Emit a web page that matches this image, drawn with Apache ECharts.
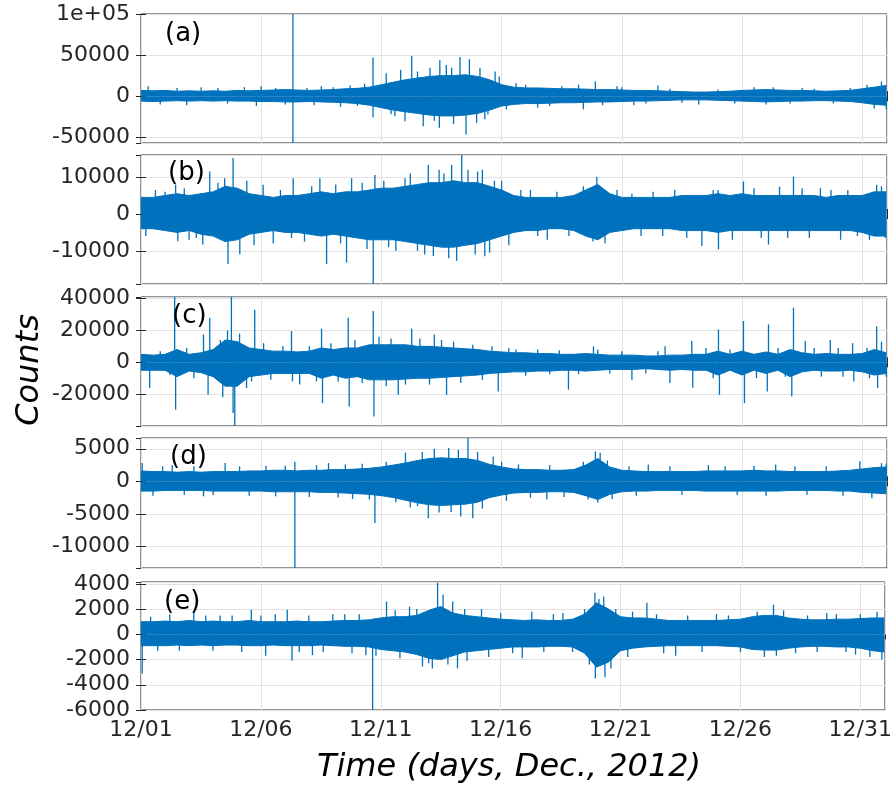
<!DOCTYPE html>
<html>
<head>
<meta charset="utf-8">
<title>Counts, Dec. 2012</title>
<script src="https://cdn.jsdelivr.net/npm/echarts@6/dist/echarts.min.js"></script>
<style>
  html, body { margin: 0; padding: 0; background: #fff; }
  #chart { width: 895px; height: 789px; }
</style>
</head>
<body>
<div id="chart"></div>
<script>
// sample times (days since 12/01 00:00), half-day steps
const days = [
  0, 0.5, 1, 1.5, 2, 2.5, 3, 3.5, 4, 4.5,
  5, 5.5, 6, 6.5, 7, 7.5, 8, 8.5, 9, 9.5,
  10, 10.5, 11, 11.5, 12, 12.5, 13, 13.5, 14, 14.5,
  15, 15.5, 16, 16.5, 17, 17.5, 18, 18.5, 19, 19.5,
  20, 20.5, 21, 21.5, 22, 22.5, 23, 23.5, 24, 24.5,
  25, 25.5, 26, 26.5, 27, 27.5, 28, 28.5, 29, 29.5,
  30, 30.5, 31
];
const dayTicks = ['12/01', '12/06', '12/11', '12/16', '12/21', '12/26', '12/31'];
const panelNames = ['(a)', '(b)', '(c)', '(d)', '(e)'];

// y ranges and tick steps for each panel
const yMin = [-57000, -19000, -40000, -13300, -6000];
const yMax = [100000, 16000, 41000, 6650, 4150];
const yStep = [50000, 10000, 20000, 5000, 2000];

// (a) dense noise envelope (upper / lower), big spikes and edge spikes [day, counts]
const hiA = [
  7000, 6500, 7000, 6000, 6500, 6000, 6500, 6000, 7000, 6500,
  7000, 7500, 8000, 7500, 7000, 7500, 8000, 9000, 9500, 11000,
  14000, 17000, 20000, 22000, 24000, 25000, 25000, 26000, 24000, 20000,
  14000, 11000, 10000, 10000, 9500, 9000, 9000, 8500, 8000, 8000,
  7500, 7000, 7000, 6500, 6000, 5500, 5000, 5000, 5500, 6000,
  7000, 7500, 8000, 7500, 7000, 7000, 6500, 6000, 6500, 7000,
  9000, 11000, 13000
];
const loA = [
  -6000, -6500, -6000, -5500, -6000, -5500, -6000, -5500, -6000, -6000,
  -6500, -6500, -7000, -7000, -6500, -7000, -7500, -8000, -9000, -11000,
  -14000, -17000, -19000, -21000, -23000, -24000, -24000, -23000, -21000, -17000,
  -12000, -10000, -9000, -9000, -8500, -8000, -8000, -7500, -7000, -7000,
  -6500, -6000, -6000, -5500, -5000, -4500, -4500, -4500, -5000, -5500,
  -6000, -6500, -7000, -6500, -6000, -6000, -5500, -5500, -6000, -6500,
  -8000, -10000, -11000
];
const spikesA = [
  [0.3, 12000], [2.5, 11000], [5.0, 12000], [6.32, 100000], [6.32, -57000],
  [7.5, 12000], [8.3, -13000], [9.65, 47000], [9.65, -26000], [10.56, -24400],
  [10.98, -30500], [11.26, 48800], [11.74, -36600], [12.02, 34600], [12.41, -38600],
  [12.43, 43900], [12.92, 34600], [13.27, 47600], [13.52, -46700], [13.66, 45100],
  [13.96, -32500], [14.1, 34600], [14.43, -22300], [14.73, 30000], [15.6, 16000],
  [16.5, -14000], [18.2, 14000], [18.4, -16000], [18.9, 18000], [19.8, 12000],
  [20.5, -11000], [21.5, 13000], [23.2, -10000], [26.3, 11000], [27.5, 10000],
  [30.5, -15000], [30.8, 18000]
];
const edgeA = [
  [0.8, -10000], [1.5, 10000], [1.9, -11000], [3.2, 10000], [3.6, -9000],
  [4.3, 11000], [4.8, -12000], [5.6, 10000], [6.0, -10000], [6.9, 10000],
  [7.2, -11000], [8.0, 11000], [8.7, 13000], [9.0, -12000], [9.3, 15000],
  [10.2, 28000], [10.4, -22000], [10.8, 32000], [11.5, 30000], [12.2, -30000],
  [12.7, 38000], [13.0, -34000], [14.3, -28000], [14.9, 24000], [15.2, -16000],
  [16.0, 14000], [17.0, -12000], [17.5, 12000], [19.2, -11000], [20.0, 11000],
  [21.0, -9000], [22.0, 9000], [22.5, -8000], [24.0, 8000], [24.7, -9000],
  [25.5, 11000], [26.0, -10000], [27.0, -9000], [28.0, 9000], [28.8, -9000],
  [29.5, 10000], [30.2, 14000], [31.0, -16000]
];

// (b)
const hiB = [
  4500, 4500, 5000, 5500, 5000, 5500, 6000, 7500, 7000, 5500,
  5000, 4500, 5000, 5000, 5500, 6000, 5500, 6000, 6000, 6500,
  7000, 7000, 7500, 8000, 8500, 8500, 9000, 8500, 8500, 7500,
  6500, 5000, 4500, 4500, 4500, 4500, 5000, 6500, 8000, 5500,
  4500, 4500, 4500, 4500, 4500, 5000, 5000, 5000, 5500, 5000,
  5500, 5000, 5000, 5000, 5000, 5000, 5000, 4500, 5000, 5000,
  5000, 6000, 6000
];
const loB = [
  -4000, -4000, -4500, -5000, -4500, -5500, -6000, -7500, -7000, -5500,
  -5000, -4500, -5000, -5000, -5500, -6000, -5500, -6000, -6500, -7000,
  -7000, -7000, -7500, -8000, -8500, -9000, -9000, -8500, -8000, -7000,
  -6000, -5000, -4500, -4500, -4000, -4000, -4500, -6000, -7000, -5000,
  -4500, -4000, -4000, -4000, -4000, -4500, -4500, -4500, -5000, -4500,
  -4500, -4500, -4500, -4500, -4500, -4500, -4500, -4500, -4500, -4500,
  -5000, -6000, -6000
];
const spikesB = [
  [0.6, 6500], [1.44, 8000], [1.53, -7400], [2.0, -7000], [2.57, -8300],
  [2.86, 11500], [3.48, 9700], [3.62, -13600], [3.83, 15200], [4.11, -10900],
  [5.08, 7900], [5.5, -8000], [6.26, -6500], [6.33, 9700], [7.44, 9700],
  [7.72, -13600], [8.55, -13200], [8.76, 9700], [9.66, -18900], [9.73, 10600],
  [10.3, -9000], [10.98, 9700], [11.5, -10000], [11.95, 13300], [12.16, -11400],
  [12.6, 11000], [12.92, 13300], [13.13, -12700], [13.34, 16000], [13.9, -11000],
  [14.2, 12000], [14.5, -10500], [14.7, 9000], [16.2, 6500], [16.9, -7000],
  [18.8, -7500], [18.96, 10100], [20.42, 5500], [21.7, -6000], [23.33, -8700],
  [24.0, 6500], [24.02, -9600], [25.06, 8800], [26.1, -8300], [26.56, 7400],
  [27.14, 10100], [28.26, 7000], [29.1, -7000], [30.6, 7900], [30.96, -6500]
];
const edgeB = [
  [0.2, -6000], [1.0, 6000], [1.8, 7000], [2.3, -6500], [3.2, 8500],
  [4.4, 9000], [4.7, -8500], [5.8, 6500], [6.8, -7500], [7.1, 7500],
  [8.1, 8000], [8.3, -8000], [9.2, 8500], [9.4, -9500], [10.1, 9000],
  [10.6, -10000], [11.2, 11000], [11.8, -11000], [12.4, 12000], [12.8, -12000],
  [13.6, 12000], [14.0, 11500], [14.3, -11500], [15.0, 9000], [15.3, -8500],
  [15.8, 6500], [16.5, -6000], [17.3, 6000], [17.8, -6000], [18.4, 7500],
  [19.3, -8000], [19.8, 6500], [20.8, -6000], [21.3, 6000], [22.2, 6500],
  [22.7, -6500], [23.8, 6500], [24.6, -7000], [25.5, 7000], [25.8, -6500],
  [26.9, -6500], [27.5, 7000], [27.8, -6500], [28.7, 6500], [29.4, 6500],
  [29.8, -6000], [30.3, -7000], [30.8, 7500]
];

// (c)
const hiC = [
  5000, 4500, 5000, 8000, 5000, 6000, 8000, 14000, 13000, 9000,
  8000, 7000, 7000, 6500, 7000, 9000, 8000, 9000, 9000, 11000,
  11000, 11000, 11000, 10000, 10000, 9500, 9000, 8500, 8000, 7000,
  6500, 6000, 6000, 5500, 5500, 5000, 5000, 5500, 5000, 4500,
  4500, 4500, 4000, 4000, 4500, 4500, 5000, 5000, 7000, 5000,
  7000, 5000, 6500, 5000, 8000, 6000, 5000, 5500, 5000, 5000,
  5500, 8000, 6000
];
const loC = [
  -5000, -5000, -5000, -9000, -5500, -6500, -9000, -15000, -15000, -9000,
  -8000, -7000, -7000, -7000, -7000, -10000, -8000, -10000, -9000, -11000,
  -11000, -11000, -10500, -10000, -10000, -9500, -9000, -8500, -8000, -7000,
  -6500, -6000, -6000, -5500, -5500, -5000, -5000, -5500, -5000, -4500,
  -4500, -4500, -4000, -4500, -5000, -4500, -5000, -5000, -8000, -5000,
  -8000, -5000, -7000, -5000, -9000, -6000, -5000, -5500, -5500, -5000,
  -6000, -8000, -7000
];
const spikesC = [
  [0.36, -16200], [1.40, 41000], [1.44, -29800], [2.6, 17500], [2.79, -20400],
  [2.86, 28000], [3.6, 20000], [3.76, 41000], [3.83, -31900], [3.9, -40000],
  [4.39, -16200], [4.73, 33000], [6.26, 19600], [6.6, -14000], [7.51, 21000],
  [7.55, -25600], [8.62, 28000], [8.66, -27800], [9.66, 32200], [9.69, -34000],
  [10.7, -20400], [11.26, 21000], [12.2, 17500], [12.71, -20400], [14.86, -18300],
  [15.3, 9000], [17.78, -17200], [18.82, 10000], [20.42, -11000], [21.8, 10000],
  [22.0, -13000], [22.91, 13300], [22.95, -16000], [24.02, 20600], [24.06, -20400],
  [25.06, 25900], [25.1, -25600], [26.05, -18300], [26.1, 23800], [27.07, -21500],
  [27.14, 34300], [27.63, 13300], [28.67, 14000], [29.6, 12000], [29.65, -12000],
  [30.6, 22700], [30.64, -16200], [30.8, 13000]
];
const edgeC = [
  [0.8, 7000], [1.2, -8000], [1.9, 9000], [2.2, -10000], [3.3, 14000],
  [3.4, -22000], [4.1, 18000], [4.6, -12000], [5.1, 12000], [5.4, -11000],
  [5.9, 10000], [6.3, -12000], [7.0, 10000], [7.3, -12000], [7.9, 12000],
  [8.2, -12000], [8.9, 14000], [9.2, -13000], [9.9, 16000], [10.2, -15000],
  [10.4, 15000], [11.0, -14000], [11.6, 15000], [12.0, -14000], [12.5, 14000],
  [13.0, 13000], [13.3, -13000], [13.8, 11000], [14.2, -11000], [14.6, 10000],
  [15.6, 8000], [16.0, -8500], [16.5, 8000], [17.0, -7500], [17.4, 7500],
  [18.2, -7500], [19.0, 8000], [19.5, -7000], [20.0, 7000], [21.0, -7000],
  [21.5, 7000], [23.5, 9000], [23.8, -10000], [24.5, 8000], [25.6, -10000],
  [26.5, 9000], [26.8, -9000], [28.0, 9000], [28.3, -9000], [29.0, 9000],
  [29.2, -9000], [30.2, 9000], [30.3, -10000], [31.0, -9000]
];

// (d)
const hiD = [
  1600, 1500, 1500, 1400, 1500, 1400, 1500, 1500, 1500, 1600,
  1600, 1700, 1700, 1600, 1700, 1700, 1800, 1800, 1900, 2000,
  2200, 2500, 2800, 3200, 3500, 3600, 3500, 3500, 3200, 2600,
  2200, 1900, 1800, 1800, 1700, 1700, 1800, 2500, 3500, 2200,
  1700, 1600, 1500, 1500, 1500, 1500, 1500, 1600, 1600, 1600,
  1600, 1700, 1600, 1600, 1500, 1500, 1500, 1500, 1600, 1700,
  1900, 2100, 2200
];
const loD = [
  -1500, -1500, -1400, -1400, -1400, -1400, -1500, -1500, -1500, -1500,
  -1500, -1600, -1600, -1600, -1600, -1700, -1700, -1800, -1900, -2000,
  -2200, -2500, -2900, -3300, -3600, -3700, -3600, -3500, -3200, -2500,
  -2100, -1800, -1700, -1700, -1600, -1600, -1700, -2200, -2800, -2000,
  -1600, -1500, -1500, -1400, -1400, -1400, -1400, -1500, -1500, -1500,
  -1500, -1500, -1500, -1500, -1400, -1400, -1400, -1400, -1500, -1500,
  -1700, -1800, -1900
];
const spikesD = [
  [0.05, 2800], [1.3, 2500], [2.6, -2300], [3.5, 2800], [6.4, 3000],
  [6.4, -13300], [7.8, 2800], [8.2, -2500], [9.73, -6400], [11.0, 4400],
  [11.5, -3800], [11.95, -5650], [12.8, 5100], [13.3, -5400], [13.6, 6650],
  [13.8, -5650], [14.65, 3800], [16.88, -2800], [18.9, 4600], [19.0, -3300],
  [19.1, 4400], [21.1, 2600], [23.6, 2500], [26.4, 2600], [29.9, 3100],
  [30.8, 2800]
];
const edgeD = [
  [0.5, -2200], [0.9, 2300], [1.8, -2100], [2.2, 2300], [3.0, -2100],
  [4.1, 2300], [4.5, -2200], [5.2, 2400], [5.6, -2300], [6.0, 2400],
  [7.0, -2400], [7.3, 2500], [8.5, 2600], [8.8, -2700], [9.2, 2700],
  [9.5, -2800], [10.2, 3000], [10.6, -3200], [11.2, -4000], [11.7, 4500],
  [12.2, 5000], [12.4, -4800], [12.9, -4700], [13.2, 4800], [14.0, 4500],
  [14.2, -4200], [15.0, 3000], [15.2, -3000], [15.7, 2600], [16.2, -2500],
  [17.0, 2500], [17.6, -2400], [18.4, 3000], [18.6, -2800], [19.4, 3200],
  [19.6, -2700], [20.3, 2300], [20.6, -2200], [22.0, 2300], [22.5, -2100],
  [24.3, 2300], [24.8, -2100], [25.5, 2400], [26.0, -2200], [27.2, 2300],
  [27.7, -2100], [28.5, 2300], [29.2, -2200], [30.4, -2600], [31.0, 2700]
];

// (e)
const hiE = [
  1000, 1000, 1050, 1000, 1100, 1000, 1050, 1000, 1000, 1100,
  1000, 1000, 1000, 1050, 1000, 1000, 1050, 1100, 1100, 1150,
  1300, 1400, 1400, 1500, 1900, 2200, 1700, 1500, 1400, 1300,
  1200, 1150, 1100, 1150, 1100, 1100, 1200, 1600, 2500, 2000,
  1400, 1300, 1300, 1200, 1100, 1100, 1100, 1100, 1100, 1150,
  1200, 1400, 1500, 1500, 1300, 1200, 1150, 1150, 1200, 1200,
  1250, 1300, 1300
];
const loE = [
  -900, -900, -900, -850, -900, -850, -900, -850, -850, -900,
  -900, -850, -900, -900, -900, -850, -900, -950, -950, -1000,
  -1200, -1300, -1400, -1600, -1900, -2000, -1700, -1400, -1300, -1200,
  -1100, -1000, -1000, -1000, -950, -950, -1000, -1500, -2600, -2200,
  -1300, -1100, -1000, -950, -900, -900, -900, -900, -900, -950,
  -1000, -1200, -1250, -1250, -1100, -1000, -950, -950, -1000, -1000,
  -1100, -1300, -1400
];
const spikesE = [
  [0.05, -3100], [1.2, 1600], [2.2, 1700], [3.3, 1500], [4.6, 1950],
  [5.2, -1700], [6.1, 1950], [6.3, -2100], [7.15, -1650], [8.0, 1600],
  [9.38, -1650], [9.66, -6000], [10.24, 2600], [11.2, 2200], [11.74, -2550],
  [12.15, -2700], [12.37, 4100], [12.6, 3150], [13.0, 2600], [13.2, -2700],
  [14.2, 2000], [15.9, -1900], [16.3, 1800], [17.6, 1700], [18.93, 3300],
  [18.95, -3500], [19.3, 3000], [19.35, -3400], [21.1, 2500], [22.3, -1700],
  [24.0, 1600], [26.38, 2350], [26.5, -1700], [28.6, 1700], [29.8, -1600],
  [30.7, 1800]
];
const edgeE = [
  [0.4, 1400], [0.7, -1300], [1.6, -1300], [2.7, 1500], [3.0, -1300],
  [3.8, 1500], [4.2, -1400], [5.0, 1500], [5.6, 1600], [6.6, -1400],
  [7.0, 1500], [7.6, -1400], [8.5, 1600], [8.8, -1500], [9.1, 1600],
  [9.8, -1700], [10.6, 1900], [10.8, -1900], [11.5, 2000], [12.0, -2300],
  [12.8, -2400], [13.5, 2000], [13.6, -2100], [14.5, -1800], [15.0, 1700],
  [15.5, -1500], [16.8, -1400], [17.2, 1600], [18.0, -1400], [18.5, 2000],
  [18.7, -2400], [19.1, 2800], [19.6, -2700], [19.8, 2000], [20.3, -1800],
  [20.5, 1800], [21.5, 1600], [21.8, -1500], [22.8, 1500], [23.4, -1400],
  [24.5, 1500], [25.0, -1400], [25.7, 1800], [26.0, -1800], [26.8, 1900],
  [27.3, -1500], [27.8, 1500], [28.2, -1400], [29.0, 1600], [29.4, -1400],
  [30.0, 1600], [30.4, -1800], [30.9, -2000]
];

const BLUE = '#0072BD';
const INK = '#262626';
const FONT = 'DejaVu Sans';

let hiList = [hiA, hiB, hiC, hiD, hiE];
let loList = [loA, loB, loC, loD, loE];
let spikeList = [spikesA.concat(edgeA), spikesB.concat(edgeB), spikesC.concat(edgeC),
    spikesD.concat(edgeD), spikesE.concat(edgeE)];

// panel boxes in px
let tops = [14, 155, 297, 438, 582];
let heights = [129, 129, 129, 130, 128];

let grid = [], xAxis = [], yAxis = [], series = [], graphic = [];

for (let i = 0; i < 5; i++) {
    grid.push({
        left: 141, right: 8, top: tops[i], height: heights[i],
        show: true, borderColor: INK, borderWidth: 1, backgroundColor: 'transparent'
    });
    let last = i === 4;
    // bottom x axis (labels only on last panel)
    xAxis.push({
        type: 'value', gridIndex: i, min: 0, max: 31.03, interval: 5,
        axisLine: {show: false},
        axisTick: {show: true, inside: true, length: 5, lineStyle: {color: INK}},
        splitLine: {show: true, lineStyle: {color: '#e1e1e1', width: 1}},
        axisLabel: {
            show: last, margin: 9, color: INK, fontFamily: FONT, fontSize: 22,
            showMaxLabel: false,
            formatter: (v) => dayTicks[Math.round(v / 5)] || ''
        }
    });
    // top mirror (ticks only)
    xAxis.push({
        type: 'value', gridIndex: i, position: 'top', min: 0, max: 31.03, interval: 5,
        axisLine: {show: false},
        axisTick: {show: true, inside: true, length: 5, lineStyle: {color: INK}},
        splitLine: {show: false}, axisLabel: {show: false}
    });
    let yCommon = {
        type: 'value', gridIndex: i, min: yMin[i], max: yMax[i],
        splitNumber: Math.round((yMax[i] - yMin[i]) / yStep[i]),
        minInterval: yStep[i], maxInterval: yStep[i],
        axisLine: {show: false},
        axisTick: {show: true, inside: true, length: 5, lineStyle: {color: INK}}
    };
    yAxis.push(Object.assign({}, yCommon, {
        position: 'left',
        splitLine: {show: true, lineStyle: {color: '#e1e1e1', width: 1}},
        axisLabel: {
            margin: 11, color: INK, fontFamily: FONT, fontSize: 22,
            showMinLabel: i === 4, showMaxLabel: i === 0,
            formatter: (v) => v === 100000 ? '1e+05' : String(v)
        }
    }));
    yAxis.push(Object.assign({}, yCommon, {
        position: 'right',
        splitLine: {show: false}, axisLabel: {show: false}
    }));

    let hi = hiList[i], lo = loList[i];
    let n = Math.min(days.length, hi.length, lo.length);
    let hiData = [], loData = [];
    for (let k = 0; k < n; k++) {
        hiData.push([days[k], hi[k]]);
        loData.push([days[k], lo[k]]);
    }
    // upper and lower envelope, each filled to the zero line
    [hiData, loData].forEach((d) => {
        series.push({
            type: 'line', xAxisIndex: 2 * i, yAxisIndex: 2 * i,
            data: d, symbol: 'none', silent: true,
            lineStyle: {color: BLUE, width: 1},
            areaStyle: {color: BLUE, opacity: 1, origin: 0}
        });
    });
    series.push({
        type: 'bar', xAxisIndex: 2 * i, yAxisIndex: 2 * i,
        data: spikeList[i], barWidth: 1.3, silent: true,
        itemStyle: {color: BLUE}
    });

    graphic.push({
        type: 'text', left: [165, 168, 172, 170, 164][i], top: tops[i] + [7, 5, 6, 6, 7][i],
        z: 100,
        style: {text: panelNames[i], fill: '#000', font: '26px "DejaVu Sans"'}
    });
}

graphic.push({
    type: 'text', x: 30, y: 370, rotation: Math.PI / 2,
    style: {text: 'Counts', fill: '#000', font: 'italic 32px "DejaVu Sans"',
        textAlign: 'center', textVerticalAlign: 'middle'}
});
graphic.push({
    type: 'text', x: 509, y: 768,
    style: {text: 'Time (days, Dec., 2012)', fill: '#000', font: 'italic 32px "DejaVu Sans"',
        textAlign: 'center', textVerticalAlign: 'middle'}
});

let myChart = echarts.init(document.getElementById('chart'), null, {renderer: 'canvas'});
myChart.setOption({
    animation: false,
    backgroundColor: '#fff',
    grid: grid,
    xAxis: xAxis,
    yAxis: yAxis,
    series: series,
    graphic: graphic
});
</script>
</body>
</html>
